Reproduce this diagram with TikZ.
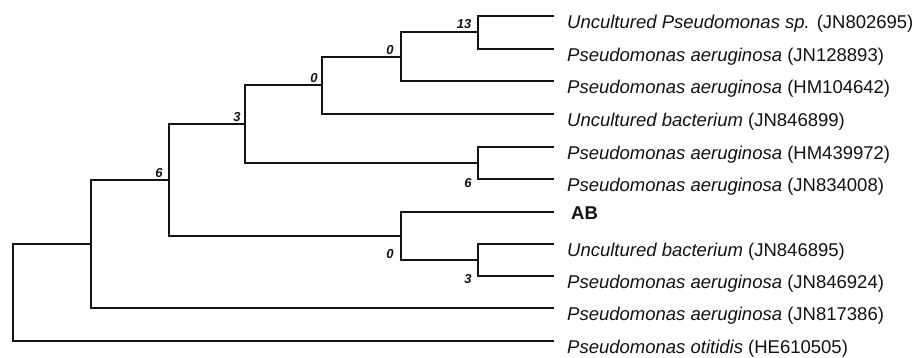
\documentclass[tikz,border=0pt]{standalone}
\usepackage{fontspec}
\setmainfont{Liberation Sans}
\usetikzlibrary{positioning}
\definecolor{treeK}{RGB}{18,18,18}

\tikzset{
  branch/.style={line width=2pt,treeK},
  taxon/.style={anchor=base west,inner sep=0pt,treeK,font=\fontsize{18.5}{20}\selectfont},
  boot/.style={inner sep=0pt,treeK,font=\fontsize{13}{14}\selectfont\bfseries\itshape}
}

\begin{document}
\begin{tikzpicture}[x=1pt,y=-1pt]
\useasboundingbox (0,0) rectangle (917,357);
% tips of the leaves
\foreach \i/\y in {1/16,2/49,3/81,4/114,5/147,6/179,7/212,8/244,9/276,10/308,11/341}
  \coordinate (t\i) at (554,\y);
% internal nodes
\coordinate (n13) at (478,32);
\coordinate (nA) at (401,57);
\coordinate (nB) at (322,85);
\coordinate (n6) at (478,163);
\coordinate (nC) at (245,124);
\coordinate (n3) at (478,260);
\coordinate (nD) at (401,236);
\coordinate (nE) at (169,180);
\coordinate (nF) at (91,244);
\coordinate (root) at (13,292);
% branches
\draw[branch] (t1) -| (n13) |- (t2);
\draw[branch] (n13) -| (nA) |- (t3);
\draw[branch] (nA) -| (nB) |- (t4);
\draw[branch] (t5) -| (n6) |- (t6);
\draw[branch] (nB) -| (nC) |- (n6);
\draw[branch] (t8) -| (n3) |- (t9);
\draw[branch] (t7) -| (nD) |- (n3);
\draw[branch] (nC) -| (nE) |- (nD);
\draw[branch] (nE) -| (nF) |- (t10);
\draw[branch] (nF) -| (root) |- (t11);
% bootstrap values
\node[boot] (b13) at ([shift={(-14,-8)}]n13) {13};
\node[boot] (bA) at ([shift={(-11,-7)}]nA) {0};
\node[boot] (bB) at ([shift={(-8,-6.5)}]nB) {0};
\node[boot] (bC) at ([shift={(-8,-7)}]nC) {3};
\node[boot] (bE) at ([shift={(-10,-6.5)}]nE) {6};
\node[boot] (b6) at ([shift={(-10,20)}]n6) {6};
\node[boot] (b3) at ([shift={(-10,19.5)}]n3) {3};
\node[boot] (bD) at ([shift={(-11,18)}]nD) {0};
% taxa
\node[taxon] (s1) at ([shift={(13,12)}]t1) {\itshape Uncultured Pseudomonas sp.\upshape{} (JN802695)};
\node[taxon] (s2) at ([shift={(13,12)}]t2) {\itshape Pseudomonas aeruginosa\upshape{} (JN128893)};
\node[taxon] (s3) at ([shift={(13,12)}]t3) {\itshape Pseudomonas aeruginosa\upshape{} (HM104642)};
\node[taxon] (s4) at ([shift={(13,12)}]t4) {\itshape Uncultured bacterium\upshape{} (JN846899)};
\node[taxon] (s5) at ([shift={(13,12)}]t5) {\itshape Pseudomonas aeruginosa\upshape{} (HM439972)};
\node[taxon] (s6) at ([shift={(13,12)}]t6) {\itshape Pseudomonas aeruginosa\upshape{} (JN834008)};
\node[taxon] (s7) at ([shift={(17,7.3)}]t7) {\bfseries AB};
\node[taxon] (s8) at ([shift={(13,12)}]t8) {\itshape Uncultured bacterium\upshape{} (JN846895)};
\node[taxon] (s9) at ([shift={(13,12)}]t9) {\itshape Pseudomonas aeruginosa\upshape{} (JN846924)};
\node[taxon] (s10) at ([shift={(13,12)}]t10) {\itshape Pseudomonas aeruginosa\upshape{} (JN817386)};
\node[taxon] (s11) at ([shift={(13,12)}]t11) {\itshape Pseudomonas otitidis\upshape{} (HE610505)};
\end{tikzpicture}
\end{document}
